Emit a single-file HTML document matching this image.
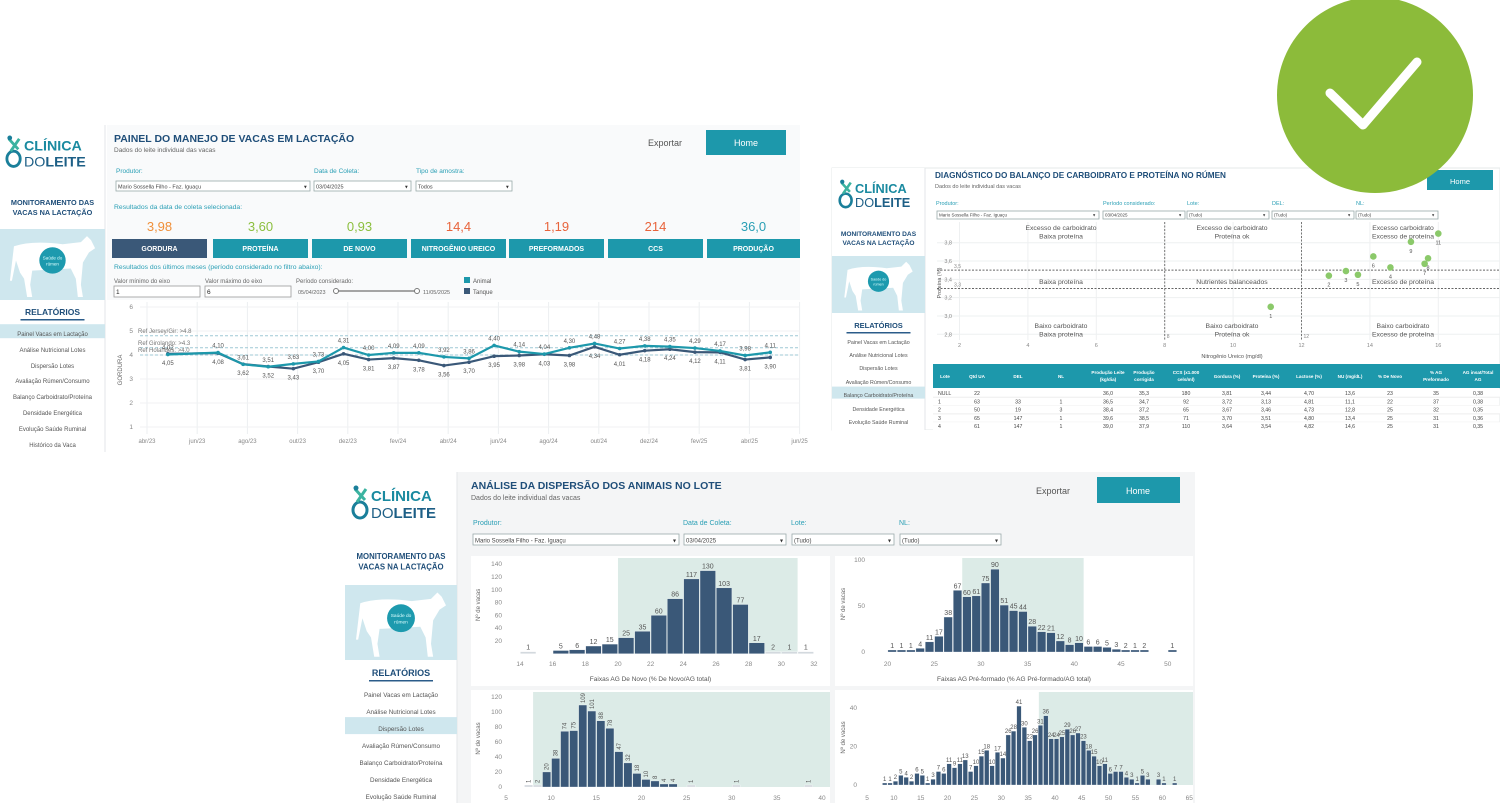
<!DOCTYPE html>
<html><head><meta charset="utf-8">
<style>
html,body{margin:0;padding:0;background:#fff;width:1500px;height:803px;overflow:hidden}
svg{display:block}
text{font-family:"Liberation Sans",sans-serif}
</style></head>
<body>
<svg id="root" width="1500" height="803" viewBox="0 0 1500 803" xmlns="http://www.w3.org/2000/svg"></svg>
<script>
// ---------- Panel 1: line chart data ----------
const p1Months = [0,2,3,4,5,6,7,8,9,10,11,12,13,14,15,16,17,18,19,20,21,22,23,24];
const p1Animal = [4.02,4.10,3.61,3.51,3.63,3.73,4.31,4.00,4.09,4.09,3.92,3.86,4.40,4.14,4.04,4.30,4.48,4.27,4.38,4.35,4.29,4.17,3.98,4.11];
const p1Tanque = [4.05,4.08,3.62,3.52,3.43,3.70,4.05,3.81,3.87,3.78,3.56,3.70,3.95,3.98,4.03,3.98,4.34,4.01,4.18,4.24,4.12,4.11,3.81,3.90];
const p1TickLabels = ['abr/23','jun/23','ago/23','out/23','dez/23','fev/24','abr/24','jun/24','ago/24','out/24','dez/24','fev/25','abr/25','jun/25'];
const p1YTicks = [1,2,3,4,5,6];
const p1KpiValues = ['3,98','3,60','0,93','14,4','1,19','214','36,0'];
const p1KpiNames = ['GORDURA','PROTEÍNA','DE NOVO','NITROGÊNIO UREICO','PREFORMADOS','CCS','PRODUÇÃO'];
// ---------- Panel 2: scatter data ----------
const scLote = ['1','2','3','5','6','4','9','7','8','11'];
const scNU = [11.1,12.8,13.3,13.65,14.1,14.6,15.2,15.6,15.7,16.0];
const scProt = [3.10,3.44,3.49,3.45,3.65,3.53,3.81,3.57,3.63,3.90];
const scXTicks = [2,4,6,8,10,12,14,16];
const scYTicks = [2.8,3.0,3.2,3.4,3.6,3.8];
const tblHead = ['Lote','Qtd UA','DEL','NL','Produção Leite|(kg/dia)','Produção|corrigida','CCS (x1.000|cels/ml)','Gordura (%)','Proteína (%)','Lactose (%)','NU (mg/dL)','% De Novo','% AG|Preformado','AG insat/Total|AG'];
const tblRows = [
 ['NULL','22','','','36,0','35,3','180','3,81','3,44','4,70','13,6','23','35','0,38'],
 ['1','63','33','1','36,5','34,7','92','3,72','3,13','4,81','11,1','22','37','0,38'],
 ['2','50','19','3','38,4','37,2','65','3,67','3,46','4,73','12,8','25','32','0,35'],
 ['3','65','147','1','39,6','38,5','71','3,70','3,51','4,80','13,4','25','31','0,36'],
 ['4','61','147','1','39,0','37,9','110','3,64','3,54','4,82','14,6','25','31','0,35']];
// ---------- Panel 3: histogram data ----------
const h1Bins = [14.5,16.5,17.5,18.5,19.5,20.5,21.5,22.5,23.5,24.5,25.5,26.5,27.5,28.5,29.5,30.5,31.5];
const h1Counts = [1,5,6,12,15,25,35,60,86,117,130,103,77,17,2,1,1];
const h1XTicks = [14,16,18,20,22,24,26,28,30,32];
const h1YTicks = [20,40,60,80,100,120,140];
const h2Bins = [20.5,21.5,22.5,23.5,24.5,25.5,26.5,27.5,28.5,29.5,30.5,31.5,32.5,33.5,34.5,35.5,36.5,37.5,38.5,39.5,40.5,41.5,42.5,43.5,44.5,45.5,46.5,47.5,50.5];
const h2Counts = [1,1,1,4,11,17,38,67,60,61,75,90,51,45,44,28,22,21,12,8,10,6,6,5,3,2,1,2,1];
const h2XTicks = [20,25,30,35,40,45,50];
const h2YTicks = [0,50,100];
const h3Bins = [7.5,8.5,9.5,10.5,11.5,12.5,13.5,14.5,15.5,16.5,17.5,18.5,19.5,20.5,21.5,22.5,23.5,25.5,30.5,38.5];
const h3Counts = [1,2,20,38,74,75,109,101,88,78,47,32,18,10,8,4,4,1,1,1];
const h3XTicks = [5,10,15,20,25,30,35,40];
const h3YTicks = [0,20,40,60,80,100,120];
const h4Bins = [8.3,9.3,10.3,11.3,12.3,13.3,14.3,15.3,16.3,17.3,18.3,19.3,20.3,21.3,22.3,23.3,24.3,25.3,26.3,27.3,28.3,29.3,30.3,31.3,32.3,33.3,34.3,35.3,36.3,37.3,38.3,39.3,40.3,41.3,42.3,43.3,44.3,45.3,46.3,47.3,48.3,49.3,50.3,51.3,52.3,53.3,54.3,55.3,56.3,57.3,59.3,60.3,62.3];
const h4Counts = [1,1,2,5,4,2,6,5,1,3,7,6,11,9,11,13,7,10,15,18,10,17,14,26,28,41,30,23,26,31,36,24,24,25,29,26,27,23,18,15,10,11,6,7,7,4,3,1,5,3,3,1,1];
const h4XTicks = [5,10,15,20,25,30,35,40,45,50,55,60,65];
const h4YTicks = [0,20,40];

const NS='http://www.w3.org/2000/svg';
const root=document.getElementById('root');
function E(tag,a,p){const e=document.createElementNS(NS,tag);for(const k in a)e.setAttribute(k,a[k]);(p||root).appendChild(e);return e;}
function N(e,name,inter){
 
 
 return e;}
function T(x,y,s,o,name,inter){const e=E('text',Object.assign({x:x,y:y,'font-size':8,fill:'#555'},o||{}));e.textContent=s;return N(e,name||'label',inter);}
function R(x,y,w,h,fill,name,o,inter){return N(E('rect',Object.assign({x:x,y:y,width:w,height:h,fill:fill},o||{})),name,inter);}
function L(x1,y1,x2,y2,st,name,o){return N(E('line',Object.assign({x1:x1,y1:y1,x2:x2,y2:y2,stroke:st,'stroke-width':1},o||{})),name,false);}

const TEAL='#1d98ab', NAVY='#3a5878', TITLE='#1f4e79', LBL='#2a9fb5';

function logo(x,y,s){
 const g=N(E('g',{transform:`translate(${x},${y}) scale(${s})`}),'clinica-do-leite-logo',false);
 N(E('ellipse',{cx:9,cy:24,rx:7,ry:8,fill:'none',stroke:'#1a7f9a','stroke-width':3},g),'logo-drop',false);
 N(E('path',{d:'M4 2 L14 14 M14 2 L6 16',stroke:'#3bb3a0','stroke-width':3,fill:'none'},g),'logo-figure',false);
 N(E('circle',{cx:9,cy:2,r:2.5,fill:'#1a7f9a'},g),'logo-head',false);
 T(20,15,'CLÍNICA',{'font-size':15,'font-weight':'bold',fill:'#1a8aa0'},'logo-text-clinica').setAttribute('transform','');
 const t2=E('text',{x:20,y:32,'font-size':15,fill:'#1d5f86'},g);
 t2.textContent='';
 N(t2,'logo-text-doleite',false);
 const a=E('tspan',{},t2);a.textContent='DO';
 const b=E('tspan',{'font-weight':'bold'},t2);b.textContent='LEITE';
 // move first text into g
 g.appendChild(root.lastChild.previousSibling===t2?root.lastChild:root.lastChild);
 return g;}

function logo2(x,y,s){
 const g=N(E('g',{transform:`translate(${x},${y}) scale(${s})`}),'clinica-do-leite-logo',false);
 N(E('ellipse',{cx:9,cy:24,rx:7,ry:8,fill:'none',stroke:'#1a7f9a','stroke-width':3},g),'logo-drop',false);
 N(E('path',{d:'M4 3 L14 14 M15 3 L6 16',stroke:'#3bb3a0','stroke-width':3,fill:'none'},g),'logo-figure',false);
 N(E('circle',{cx:5,cy:2,r:2.5,fill:'#1a7f9a'},g),'logo-head',false);
 const t1=N(E('text',{x:20,y:15,'font-size':15,'font-weight':'bold',fill:'#1a8aa0'},g),'logo-text-clinica',false);t1.textContent='CLÍNICA';
 const t2=N(E('text',{x:20,y:32,'font-size':15,fill:'#1d5f86'},g),'logo-text-doleite',false);
 const a=E('tspan',{},t2);a.textContent='DO';
 const b=E('tspan',{'font-weight':'bold'},t2);b.textContent='LEITE';
 return g;}

function cow(x,y,w,h){
 R(x,y,w,h,'#cfe7ee','cow-image-block');
 const cx=x+w/2, cy=y+h/2;
 const g=N(E('g',{transform:`translate(${cx},${cy}) scale(${h/70})`}),'cow-silhouette',false);
 N(E('path',{d:'M-38 -18 Q-20 -24 10 -20 L28 -22 L34 -28 L38 -24 L42 -16 L36 -12 L30 -2 L28 20 L30 32 L25 32 L23 14 L18 4 L-20 6 L-22 20 L-20 32 L-25 32 L-28 14 L-32 8 L-36 -4 L-40 16 L-42 16 Z',fill:'#fff'},g),'cow-body',false);
 N(E('circle',{cx:0,cy:-4,r:13,fill:'#1d9aae'},g),'saude-rumen-badge',false);
 const t1=N(E('text',{x:0,y:-5,'font-size':4.5,fill:'#dff','text-anchor':'middle'},g),'badge-text',false);t1.textContent='Saúde do';
 const t2=N(E('text',{x:0,y:1,'font-size':4.5,fill:'#dff','text-anchor':'middle'},g),'badge-text',false);t2.textContent='rúmen';
}

function sidebar(o){
 R(o.x,o.y,o.w,o.h,'#fff','sidebar');
 L(o.x+o.w,o.y,o.x+o.w,o.y+o.h,'#e3e6e8','sidebar-divider');
 logo2(o.x+o.lx,o.ly,o.ls);
 T(o.x+o.w/2,o.my,'MONITORAMENTO DAS',{'font-size':o.mf,'font-weight':'bold',fill:TITLE,'text-anchor':'middle'},'monitoramento-title');
 T(o.x+o.w/2,o.my+o.mf*1.35,'VACAS NA LACTAÇÃO',{'font-size':o.mf,'font-weight':'bold',fill:TITLE,'text-anchor':'middle'},'monitoramento-title');
 cow(o.x,o.cy0,o.w,o.cy1-o.cy0);
 T(o.x+o.w/2,o.ry,'RELATÓRIOS',{'font-size':o.rf,'font-weight':'bold',fill:TITLE,'text-anchor':'middle'},'relatorios-heading');
 R(o.x+o.w/2-32,o.ry+4,64,1.5,'#2b5c8a','relatorios-underline');
 const items=['Painel Vacas em Lactação','Análise Nutricional Lotes','Dispersão Lotes','Avaliação Rúmen/Consumo','Balanço Carboidrato/Proteína','Densidade Energética','Evolução Saúde Ruminal','Histórico da Vaca'];
 o.items.forEach((yy,i)=>{
  if(i===o.sel) R(o.x,yy-o.ih*0.7,o.w,o.ih,'#cfe7ee','menu-item-selected',{},true);
  T(o.x+o.w/2,yy+2,items[i],{'font-size':o.if,fill:'#555','text-anchor':'middle'},'menu-item',true);
 });
}
function dropdown(x,y,w,h,s,fs){
 R(x,y,w,h,'#fff','dropdown',{stroke:'#9aa','stroke-width':0.8},true);
 T(x+2,y+h-2.5,s,{'font-size':fs,fill:'#444'},'dropdown-value');
 T(x+w-6,y+h-2.5,'▾',{'font-size':fs,fill:'#333'},'dropdown-arrow');
}

// ================= PANEL 1 =================
R(0,125,800,327,'#fff','panel-manejo');
R(107,125,693,327,'#f9fafb','panel-manejo-main');
sidebar({x:0,y:125,w:105,h:327,lx:5,ly:136,ls:0.95,my:205,mf:7.3,cy0:229,cy1:300,ry:315,rf:8.5,items:[334,350,366,381,397,413,429,445],sel:0,if:6,ih:14});
T(114,142,'PAINEL DO MANEJO DE VACAS EM LACTAÇÃO',{'font-size':10.5,'font-weight':'bold',fill:TITLE},'dashboard-title');
T(114,152,'Dados do leite individual das vacas',{'font-size':6.5,fill:'#666'},'dashboard-subtitle');
T(648,146,'Exportar',{'font-size':9,fill:'#555'},'export-button',true);
R(706,130,80,25,TEAL,'home-button',{},true);
T(746,146,'Home',{'font-size':9,fill:'#fff','text-anchor':'middle'},'home-button-label',true);
T(116,173,'Produtor:',{'font-size':6.5,fill:LBL},'produtor-label');
T(314,173,'Data de Coleta:',{'font-size':6.5,fill:LBL},'data-coleta-label');
T(416,173,'Tipo de amostra:',{'font-size':6.5,fill:LBL},'tipo-amostra-label');
dropdown(116,181,194,10,'Mario Sossella Filho - Faz. Iguaçu',5.5);
dropdown(314,181,97,10,'03/04/2025',5.5);
dropdown(416,181,96,10,'Todos',5.5);
T(114,209,'Resultados da data de coleta selecionada:',{'font-size':6.8,fill:LBL},'resultados-data-label');
const kpiColors=['#f0903a','#8cbf3f','#8cbf3f','#e8643c','#e8643c','#e8643c','#2a9fb5'];
const kpiX=[112,213,312,411,509,608,707];
p1KpiNames.forEach((n,i)=>{
 const w=i===6?93:95;
 T(kpiX[i]+w/2,231,p1KpiValues[i],{'font-size':13,fill:kpiColors[i],'text-anchor':'middle'},'kpi-value');
 R(kpiX[i],239,w,19,i===0?NAVY:TEAL,'kpi-button',{},true);
 T(kpiX[i]+w/2,251,n,{'font-size':7,'font-weight':'bold',fill:'#fff','text-anchor':'middle'},'kpi-button-label',true);
});
T(114,269,'Resultados dos últimos meses (período considerado no filtro abaixo):',{'font-size':6.8,fill:LBL},'resultados-meses-label');
T(114,283,'Valor mínimo do eixo',{'font-size':6,fill:'#666'},'min-axis-label');
T(205,283,'Valor máximo do eixo',{'font-size':6,fill:'#666'},'max-axis-label');
R(114,286,86,11,'#fff','min-axis-input',{stroke:'#999','stroke-width':0.8},true);
T(116,294,'1',{'font-size':6.5,fill:'#222'},'min-axis-value');
R(205,286,86,11,'#fff','max-axis-input',{stroke:'#999','stroke-width':0.8},true);
T(207,294,'6',{'font-size':6.5,fill:'#222'},'max-axis-value');
T(296,283,'Período considerado:',{'font-size':6,fill:'#666'},'periodo-label');
T(298,294,'05/04/2023',{'font-size':5.5,fill:'#666'},'periodo-start');
L(336,291,417,291,'#888','periodo-slider-track',{'stroke-width':1.5});
N(E('circle',{cx:336,cy:291,r:2.5,fill:'#fff',stroke:'#777'}),'slider-handle-start',true);
N(E('circle',{cx:417,cy:291,r:2.5,fill:'#fff',stroke:'#777'}),'slider-handle-end',true);
T(423,294,'11/05/2025',{'font-size':5.5,fill:'#666'},'periodo-end');
R(464,277,6,6,TEAL,'legend-swatch-animal');T(473,283,'Animal',{'font-size':6,fill:'#555'},'legend-entry-animal');
R(464,288,6,6,NAVY,'legend-swatch-tanque');T(473,294,'Tanque',{'font-size':6,fill:'#555'},'legend-entry-tanque');
R(107,300,693,152,'#fff','line-chart-area');
const p1x=m=>147+m*25.1, p1y=v=>355-(v-4)*24;
p1TickLabels.forEach((s,i)=>{const x=p1x(i*2);L(x,302,x,434,'#eceff1','x-gridline');T(x,443,s,{'font-size':6,fill:'#888','text-anchor':'middle'},'x-tick-label');});
p1YTicks.forEach(v=>{L(140,p1y(v),800,p1y(v),'#f0f2f3','y-gridline');T(133,p1y(v)+2,String(v),{'font-size':6.5,fill:'#888','text-anchor':'end'},'y-tick-label');});
const yt=T(122,370,'GORDURA',{'font-size':6,fill:'#666','text-anchor':'middle'},'y-axis-title');yt.setAttribute('transform','rotate(-90 122 370)');
[[4.8,'Ref Jersey/Gir: >4.8'],[4.3,'Ref Girolando: >4.3'],[4.0,'Ref Holandês: >4.0']].forEach(r=>{
 L(140,p1y(r[0]),800,p1y(r[0]),'#9fc9d6','reference-line',{'stroke-dasharray':'3,2'});
 T(138,p1y(r[0])-3,r[1],{'font-size':6,fill:'#777'},'reference-line-label');});
function series(vals,color,name,above){
 const pts=vals.map((v,i)=>p1x(p1Months[i]+0.83)+','+p1y(v)).join(' ');
 N(E('polyline',{points:pts,fill:'none',stroke:color,'stroke-width':2.2}),name+'-line',false);
 vals.forEach((v,i)=>{const x=p1x(p1Months[i]+0.83),y=p1y(v);
  N(E('circle',{cx:x,cy:y,r:1.8,fill:color}),name+'-point',false);
  T(x,above?y-5:y+11,v.toFixed(2).replace('.',','),{'font-size':6,fill:'#555','text-anchor':'middle'},name+'-value-label');});
}
series(p1Tanque,NAVY,'tanque',false);
series(p1Animal,TEAL,'animal',true);

// ================= PANEL 2 =================
R(832,168,668,262,'#fff','panel-balanco',{stroke:'#e6e8ea'});
sidebar({x:832,y:168,w:93,h:262,lx:6,ly:180,ls:0.85,my:236,mf:6.6,cy0:256,cy1:313,ry:328,rf:7.5,items:[342,355,368,382,395,409,422,435],sel:4,if:5.3,ih:12});
T(935,178,'DIAGNÓSTICO DO BALANÇO DE CARBOIDRATO E PROTEÍNA NO RÚMEN',{'font-size':8.2,'font-weight':'bold',fill:TITLE},'dashboard-title');
T(935,188,'Dados do leite individual das vacas',{'font-size':5.5,fill:'#666'},'dashboard-subtitle');
T(1380,185,'Exportar',{'font-size':7,fill:'#555'},'export-button',true);
R(1427,170,66,20,TEAL,'home-button',{},true);
T(1460,184,'Home',{'font-size':7.5,fill:'#fff','text-anchor':'middle'},'home-button-label',true);
[['Produtor:',936],['Período considerado:',1103],['Lote:',1187],['DEL:',1272],['NL:',1356]].forEach(a=>T(a[1],205,a[0],{'font-size':5.5,fill:LBL},'filter-label'));
dropdown(937,211,162,8,'Mario Sossella Filho - Faz. Iguaçu',4.5);
dropdown(1103,211,82,8,'03/04/2025',4.5);
dropdown(1187,211,82,8,'(Tudo)',4.5);
dropdown(1272,211,82,8,'(Tudo)',4.5);
dropdown(1356,211,82,8,'(Tudo)',4.5);
const sx=v=>959.5+(v-2)*34.2, sy=v=>242.7-(v-3.8)*91.6;
scXTicks.forEach(v=>{L(sx(v),222,sx(v),340,'#eef0f1','scatter-x-gridline');T(sx(v),347,String(v),{'font-size':5.5,fill:'#888','text-anchor':'middle'},'scatter-x-tick');});
scYTicks.forEach(v=>{L(937,sy(v),1500,sy(v),'#eef0f1','scatter-y-gridline');T(952,sy(v)+2,v.toFixed(1).replace('.',','),{'font-size':5.5,fill:'#888','text-anchor':'end'},'scatter-y-tick');});
[3.5,3.3].forEach(v=>{L(937,sy(v),1500,sy(v),'#666','protein-threshold-line',{'stroke-dasharray':'2,1.5'});T(961,sy(v)-2,v.toFixed(1).replace('.',','),{'font-size':5,fill:'#888','text-anchor':'end'},'threshold-label');});
[8,12].forEach(v=>{L(sx(v),222,sx(v),340,'#777','nu-threshold-line',{'stroke-dasharray':'2,1.5'});T(sx(v)+2,338,String(v),{'font-size':5,fill:'#888'},'threshold-label');});
[[1061,'Excesso de carboidrato','Baixa proteína',228],[1232,'Excesso de carboidrato','Proteína ok',228],[1403,'Excesso carboidrato','Excesso de proteína',228],
 [1061,'Baixa proteína','',282],[1232,'Nutrientes balanceados','',282],[1403,'Excesso de proteína','',282],
 [1061,'Baixo carboidrato','Baixa proteína',326],[1232,'Baixo carboidrato','Proteína ok',326],[1403,'Baixo carboidrato','Excesso de proteína',326]].forEach(q=>{
 T(q[0],q[3]+2,q[1],{'font-size':6.8,fill:'#555','text-anchor':'middle'},'quadrant-label');
 if(q[2])T(q[0],q[3]+10.5,q[2],{'font-size':6.8,fill:'#555','text-anchor':'middle'},'quadrant-label');});
T(1232,358,'Nitrogênio Ureico (mg/dl)',{'font-size':5.5,fill:'#555','text-anchor':'middle'},'scatter-x-title');
const st=T(941,283,'Proteína (%)',{'font-size':5.5,fill:'#555','text-anchor':'middle'},'scatter-y-title');st.setAttribute('transform','rotate(-90 941 283)');
scLote.forEach((s,i)=>{const x=sx(scNU[i]),y=sy(scProt[i]);
 N(E('circle',{cx:x,cy:y,r:3.3,fill:'#8bc96a'}),'lote-point',true);
 T(x,y+11,s,{'font-size':5.5,fill:'#555','text-anchor':'middle'},'lote-point-label');});
R(933,364,567,24,TEAL,'table-header');
const colX=[945,977,1018,1061,1108,1144,1186,1227,1266,1309,1350,1390,1436,1478];
tblHead.forEach((h,i)=>{const p=h.split('|');p.forEach((s,j)=>T(colX[i],(p.length>1?374:378)+j*7,s,{'font-size':4.6,fill:'#fff','text-anchor':'middle','font-weight':'bold'},'table-header-cell'));});
tblRows.forEach((r,ri)=>{const y=395+ri*8.3;
 if(ri%2===0)R(933,y-6,567,8.3,'#fff','table-row-bg');
 L(933,y+2.3,1500,y+2.3,'#eee','table-row-divider');
 r.forEach((c,ci)=>T(ci===0?938:colX[ci],y,c,{'font-size':5.2,fill:'#444','text-anchor':ci===0?'start':'middle'},'table-cell'));});
R(832,430,668,10,'#fff','panel-balanco-clip');

// ================= PANEL 3 =================
R(345,472,850,331,'#f4f5f6','panel-dispersao');
sidebar({x:345,y:472,w:112,h:331,lx:6,ly:486,ls:1.0,my:559,mf:7.8,cy0:585,cy1:660,ry:676,rf:9,items:[695,712,729,746,763,780,797,814],sel:2,if:6.3,ih:17});
T(471,489,'ANÁLISE DA DISPERSÃO DOS ANIMAIS NO LOTE',{'font-size':10.5,'font-weight':'bold',fill:TITLE},'dashboard-title');
T(471,500,'Dados do leite individual das vacas',{'font-size':7,fill:'#666'},'dashboard-subtitle');
T(1036,494,'Exportar',{'font-size':9,fill:'#555'},'export-button',true);
R(1097,477,83,26,TEAL,'home-button',{},true);
T(1138,494,'Home',{'font-size':9,fill:'#fff','text-anchor':'middle'},'home-button-label',true);
[['Produtor:',473],['Data de Coleta:',683],['Lote:',791],['NL:',899]].forEach(a=>T(a[1],525,a[0],{'font-size':7,fill:LBL},'filter-label'));
dropdown(473,534,206,11,'Mario Sossella Filho - Faz. Iguaçu',6);
dropdown(684,534,102,11,'03/04/2025',6);
dropdown(792,534,102,11,'(Tudo)',6);
dropdown(900,534,101,11,'(Tudo)',6);

function hist(c){
 R(c.bx,c.by,c.bw,c.bh,'#fff','histogram-panel');
 const x=v=>c.x0+(v-c.v0)*c.ux, y=v=>c.yb-v*c.uy;
 const bandR=Math.min(x(c.band[1]),c.bx+c.bw);
 R(x(c.band[0]),c.by+2,bandR-x(c.band[0]),c.yb-c.by-2,'#dcebe7','target-band');
 c.yt.forEach(v=>T(c.ylx,y(v)+2,String(v),{'font-size':6.5,fill:'#888','text-anchor':'end'},'y-tick-label'));
 c.xt.forEach(v=>T(x(v),c.xly,String(v),{'font-size':6.5,fill:'#888','text-anchor':'middle'},'x-tick-label'));
 const yt=T(c.ytx,(c.by+c.yb)/2,'Nº de vacas',{'font-size':6,fill:'#666','text-anchor':'middle'},'y-axis-title');yt.setAttribute('transform',`rotate(-90 ${c.ytx} ${(c.by+c.yb)/2})`);
 if(c.title)T(c.bx+c.bw/2,c.tty,c.title,{'font-size':6.5,fill:'#555','text-anchor':'middle'},'x-axis-title');
 c.bins.forEach((b,i)=>{const v=c.counts[i];const h=Math.max(v*c.uy,2);
  R(x(b-0.5)+0.4,c.yb-h,c.ux-0.8,h,v<=2&&c.light?'#d3d9de':NAVY,'histogram-bar',{stroke:'#fff','stroke-width':0.3});
  const lx=x(b),ly=c.yb-h-2;
  if(c.rot){const t=T(lx+2,ly,String(v),{'font-size':c.lf,fill:'#555'},'bar-value-label');t.setAttribute('transform',`rotate(-90 ${lx+2} ${ly})`);}
  else T(lx,ly,String(v),{'font-size':c.lf,fill:'#555','text-anchor':'middle'},'bar-value-label');});
}
hist({bx:471,by:556,bw:359,bh:130,x0:520,v0:14,ux:16.33,yb:653.7,uy:0.639,band:[20,31],yt:h1YTicks,xt:h1XTicks,ylx:502,xly:666,ytx:480,tty:681,title:'Faixas AG De Novo (% De Novo/AG total)',bins:h1Bins,counts:h1Counts,lf:7,light:true});
hist({bx:835,by:556,bw:358,bh:130,x0:887.5,v0:20,ux:9.34,yb:652,uy:0.92,band:[28,41],yt:h2YTicks,xt:h2XTicks,ylx:865,xly:666,ytx:845,tty:681,title:'Faixas AG Pré-formado (% AG Pré-formado/AG total)',bins:h2Bins,counts:h2Counts,lf:7,light:false});
hist({bx:471,by:690,bw:359,bh:113,x0:506,v0:5,ux:9.03,yb:787,uy:0.752,band:[8,60],yt:h3YTicks,xt:h3XTicks,ylx:502,xly:800,ytx:480,tty:0,title:'',bins:h3Bins,counts:h3Counts,lf:6,light:true,rot:true});
hist({bx:835,by:690,bw:358,bh:113,x0:867,v0:5,ux:5.37,yb:785,uy:1.925,band:[37,80],yt:h4YTicks,xt:h4XTicks,ylx:857,xly:800,ytx:845,tty:0,title:'',bins:h4Bins,counts:h4Counts,lf:6,light:false});

// ================= Check badge =================
N(E('circle',{cx:1375,cy:95,r:98,fill:'#8cbb3a'}),'success-check-badge',false);
N(E('polyline',{points:'1330,93 1363,125 1417,62',fill:'none',stroke:'#fff','stroke-width':9,'stroke-linecap':'round','stroke-linejoin':'round'}),'check-mark',false);
</script>
</body></html>
